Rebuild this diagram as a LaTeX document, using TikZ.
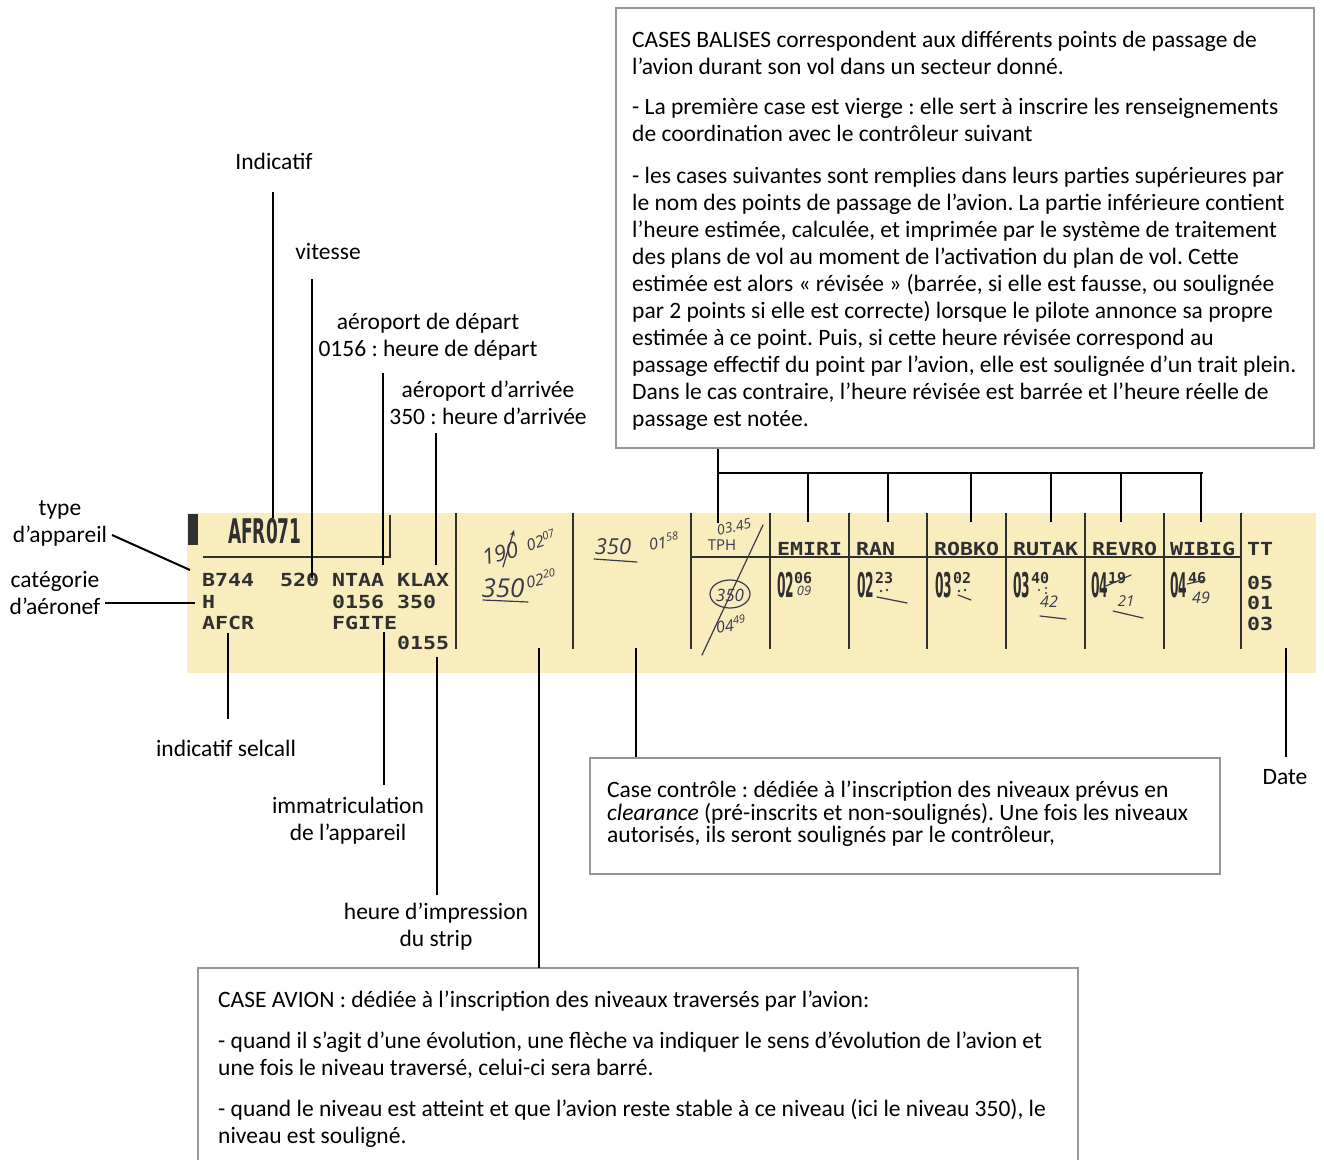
\documentclass[tikz,border=0pt]{standalone}
\usepackage{fontspec}
\usepackage{graphicx}
\setmainfont{Carlito}
\newfontfamily\stripfont[FakeStretch=1.2]{DejaVu Sans Mono}
\newfontfamily\monofont{DejaVu Sans Mono}
\newfontfamily\blockfont{DejaVu Sans}
\newfontfamily\handfont{Open Sans}
\usetikzlibrary{arrows.meta}

\definecolor{stripbg}{RGB}{249,237,190}
\definecolor{ink}{RGB}{48,48,48}
\definecolor{pen}{RGB}{58,58,76}
\definecolor{frame}{RGB}{150,150,150}

\newcommand{\hwsize}[1]{\fontsize{#1}{#1}\selectfont}
% fixes the height of the first line of a note, so its baseline sits 19pt below the top
\newcommand{\topline}{\rule{0pt}{19pt}}

\begin{document}
\frenchspacing
\begin{tikzpicture}[x=1pt,y=-1pt,
  lbl/.style={font=\fontsize{23.5}{27}\selectfont, align=center, inner sep=0pt},
  lead/.style={line width=2pt, draw=black},
  notebox/.style={draw=frame, line width=2pt, anchor=north west, inner sep=0pt},
  notetext/.style={font=\fontsize{23.5}{27}\selectfont, align=left, inner sep=0pt, anchor=north west},
  sep/.style={line width=2.2pt, draw=ink},
  prn/.style={font=\stripfont\bfseries\fontsize{18}{18}\selectfont, text=ink, inner sep=0pt, anchor=base west},
  minute/.style={font=\monofont\bfseries\fontsize{15}{15}\selectfont, text=ink, inner sep=0pt, anchor=base west},
  big/.style={font=\blockfont\bfseries\fontsize{34}{34}\selectfont, text=ink, inner sep=0pt, anchor=base west},
  hw/.style={font=\handfont\itshape\hwsize{16}, text=pen, inner sep=0pt},
  stroke/.style={draw=pen, line width=1.2pt, line cap=round},
  dot/.style={fill=pen},
]
\path[use as bounding box] (0,0) rectangle (1324,1159);
\fill[white] (0,0) rectangle (1324,1159);

% ---------- the flight strip ----------
\fill[stripbg] (187,513) rectangle (1316,673);
\fill[ink] (188,514) rectangle (198,545);
\draw[sep] (203,557) -- (390,557) -- (390,515);
\foreach \x in {456,573,691,770,849,927,1006,1085,1164,1241}
  \draw[sep] (\x,513) -- (\x,649);
\draw[sep] (691,557) -- (1241,557);

% printed fields
\node[big] (callsign) at (228,543) {\scalebox{0.5}[1]{AFR071}};
\node[prn] (actype) at (202,586) {B744};
\node[prn] (speed) at (280,586) {520};
\node[prn] (adep) at (332,586) {NTAA};
\node[prn] (ades) at (397,586) {KLAX};
\node[prn] (wtc) at (202,608) {H};
\node[prn] (etd) at (332,608) {0156};
\node[prn] (rfl) at (397,608) {350};
\node[prn] (selcal) at (202,629) {AFCR};
\node[prn] (reg) at (332,629) {FGITE};
\node[prn] (printed) at (397,649) {0155};

\node[prn] (wpA) at (777,555) {EMIRI};
\node[prn] (wpB) at (856,555) {RAN};
\node[prn] (wpC) at (934,555) {ROBKO};
\node[prn] (wpD) at (1013,555) {RUTAK};
\node[prn] (wpE) at (1092,555) {REVRO};
\node[prn] (wpF) at (1170,555) {WIBIG};
\node[prn] (tt) at (1247,555) {TT};
\node[prn] (dd) at (1247,589) {05};
\node[prn] (mm) at (1247,609) {01};
\node[prn] (yy) at (1247,630) {03};

% estimated times (hours large, minutes small)
\node[big] (hA) at (777,597) {\scalebox{0.36}[1]{02}};
\node[minute] (mA) at (794,583) {06};
\node[big] (hB) at (857,597) {\scalebox{0.36}[1]{02}};
\node[minute] (mB) at (875,583) {23};
\node[big] (hC) at (935,597) {\scalebox{0.36}[1]{03}};
\node[minute] (mC) at (953,583) {02};
\node[big] (hD) at (1013,597) {\scalebox{0.36}[1]{03}};
\node[minute] (mD) at (1031,583) {40};
\node[big] (hE) at (1091,597) {\scalebox{0.36}[1]{04}};
\node[minute] (mE) at (1108,583) {19};
\node[big] (hF) at (1170,597) {\scalebox{0.36}[1]{04}};
\node[minute] (mF) at (1188,583) {46};

% handwritten marks: aircraft column
\node[hw, font=\handfont\itshape\hwsize{22}, rotate=14] (lvlA) at (500,553) {190};
\draw[stroke, -{Stealth[length=6pt,width=5pt]}] (503,567) -- (514,530);
\node[hw, rotate=18] (lvlAt) at (541,540) {02\textsuperscript{07}};
\node[hw, font=\handfont\itshape\hwsize{26}] (lvlB) at (503,588) {350};
\draw[stroke] (483,600) -- (528,602);
\node[hw, rotate=12] (lvlBt) at (541,578) {02\textsuperscript{20}};

% handwritten marks: control column
\node[hw, font=\handfont\itshape\hwsize{22}] (clr) at (613,547) {350};
\draw[stroke] (594,559) -- (637,562);
\node[hw, rotate=10] (clrt) at (664,541) {01\textsuperscript{58}};

% handwritten marks: first beacon box
\node[hw, font=\handfont\itshape\hwsize{14}, rotate=12] (coordT) at (734,527) {03.45};
\node[hw, font=\handfont\hwsize{15}] (coordP) at (722,545) {TPH};
\draw[stroke] (763,525) -- (702,655);
\draw[stroke] (730,594) ellipse [x radius=20pt, y radius=14pt];
\node[hw, font=\handfont\itshape\hwsize{17}] (coordL) at (730,595) {350};
\node[hw, rotate=10] (coordE) at (731,624) {04\textsuperscript{49}};

% handwritten revisions of the estimates
\node[hw, font=\handfont\itshape\hwsize{13}] (rA) at (804,591) {09};
\fill[dot] (881,591) circle[radius=1.3pt];
\fill[dot] (887,590) circle[radius=1.3pt];
\draw[stroke] (877,597) -- (907,603);
\fill[dot] (959,591) circle[radius=1.3pt];
\fill[dot] (965,590) circle[radius=1.3pt];
\draw[stroke] (958,595) -- (971,600);
\fill[dot] (1039,590) circle[radius=1.2pt];
\fill[dot] (1046,588) circle[radius=1.2pt];
\fill[dot] (1046,593) circle[radius=1.2pt];
\node[hw, font=\handfont\itshape\hwsize{16}] (rD) at (1049,602) {42};
\draw[stroke] (1040,616) -- (1066,619);
\draw[stroke] (1106,586) -- (1131,575);
\node[hw, font=\handfont\itshape\hwsize{15}] (rE) at (1126,601) {21};
\draw[stroke] (1113,611) -- (1143,618);
\draw[stroke] (1187,584) -- (1205,580);
\node[hw, font=\handfont\itshape\hwsize{16}] (rF) at (1201,598) {49};

% ---------- explanatory boxes ----------
\node[notebox, minimum width=698pt, minimum height=440pt] (balises) at (615,7) {};
\node[notetext] (balisesT) at (632,28.5) {\topline CASES BALISES correspondent aux différents points de passage de\\
l’avion durant son vol dans un secteur donné.\\[13pt]
- La première case est vierge : elle sert à inscrire les renseignements\\
de coordination avec le contrôleur suivant\\[15pt]
- les cases suivantes sont remplies dans leurs parties supérieures par\\
le nom des points de passage de l’avion. La partie inférieure contient\\
l’heure estimée, calculée, et imprimée par le système de traitement\\
des plans de vol au moment de l’activation du plan de vol. Cette\\
estimée est alors « révisée » (barrée, si elle est fausse, ou soulignée\\
par 2 points si elle est correcte) lorsque le pilote annonce sa propre\\
estimée à ce point. Puis, si cette heure révisée correspond au\\
passage effectif du point par l’avion, elle est soulignée d’un trait plein.\\
Dans le cas contraire, l’heure révisée est barrée et l’heure réelle de\\
passage est notée.};

\node[notebox, minimum width=630pt, minimum height=116pt] (controle) at (589,757) {};
\node[notetext, font=\fontsize{23.5}{22.5}\selectfont] (controleT) at (607,778.5) {\topline Case contrôle : dédiée à l’inscription des niveaux prévus en\\
\textit{clearance} (pré-inscrits et non-soulignés). Une fois les niveaux\\
autorisés, ils seront soulignés par le contrôleur,};

\draw[draw=frame, line width=2pt] (198,1170) -- (198,968) -- (1078,968) -- (1078,1170);
\coordinate (avion) at (539,968);
\node[notetext] (avionT) at (218,988.5) {\topline CASE AVION : dédiée à l’inscription des niveaux traversés par l’avion:\\[14pt]
- quand il s’agit d’une évolution, une flèche va indiquer le sens d’évolution de l’avion et\\
une fois le niveau traversé, celui-ci sera barré.\\[14pt]
- quand le niveau est atteint et que l’avion reste stable à ce niveau (ici le niveau 350), le\\
niveau est souligné.};

% ---------- labels ----------
\node[lbl] (indic) at (274,161) {Indicatif};
\node[lbl] (vit) at (328,251) {vitesse};
\node[lbl] (dep) at (428,337) {aéroport de départ\\0156 : heure de départ};
\node[lbl] (arr) at (488,403) {aéroport d’arrivée\\350 : heure d’arrivée};
\node[lbl] (typeL) at (60,523) {type\\d’appareil};
\node[lbl] (catL) at (55,593) {catégorie\\d’aéronef};
\node[lbl] (selL) at (226,748) {indicatif selcall};
\node[lbl] (immL) at (348,821) {immatriculation\\de l’appareil};
\node[lbl] (imprL) at (436,927) {heure d’impression\\du strip};
\node[lbl] (dateL) at (1285,777) {Date};

% ---------- leader lines ----------
\coordinate (a1) at (273,192);  \coordinate (b1) at (273,518);
\coordinate (a2) at (312,279);  \coordinate (b2) at (312,578);
\coordinate (a3) at (383,373);  \coordinate (b3) at (383,565);
\coordinate (a4) at (436,433);  \coordinate (b4) at (436,565);
\coordinate (a5) at (112,535);  \coordinate (b5) at (190,570);
\coordinate (a6) at (105,603);  \coordinate (b6) at (195,603);
\coordinate (a7) at (228,719);  \coordinate (b7) at (228,633);
\coordinate (a8) at (384,785);  \coordinate (b8) at (384,632);
\coordinate (a9) at (437,895);  \coordinate (b9) at (437,657);
\coordinate (b10) at (539,648);
\coordinate (b11) at (636,648);
\coordinate (a12) at (1286,757); \coordinate (b12) at (1286,648);
\foreach \s/\t in {a1/b1,a2/b2,a3/b3,a4/b4,a5/b5,a6/b6,a7/b7,a8/b8,a9/b9,a12/b12}
  \draw[lead] (\s) -- (\t);
\draw[lead] (avion) -- (b10);
\draw[lead] (controle.north west -| b11) -- (b11);

% bracket from the beacon note to the beacon boxes
\coordinate (bk0) at (718,523);
\draw[lead] (balises.south west -| bk0) -- (bk0);
\coordinate (bkL) at (718,473);
\coordinate (bkR) at (1203,473);
\draw[lead] (bkL) -- (bkR);
\foreach \x/\n in {808/p1,888/p2,971/p3,1051/p4,1121/p5,1201/p6}{
  \coordinate (\n) at (\x,522);
  \draw[lead] (bkL -| \n) -- (\n);
}
\end{tikzpicture}
\end{document}
